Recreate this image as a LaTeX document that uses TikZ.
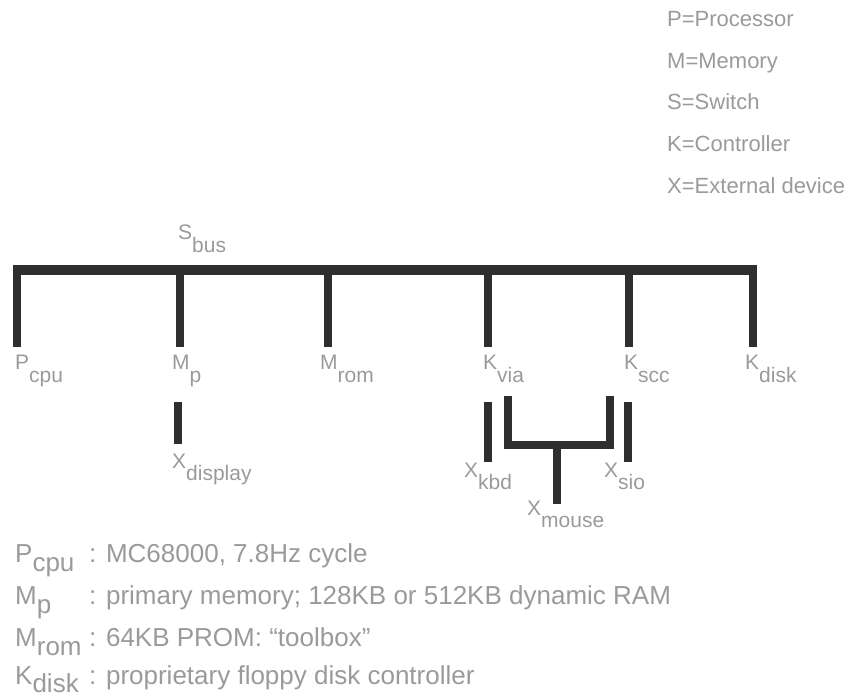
\documentclass[tikz,border=0pt]{standalone}
\usepackage{fontspec}
\setmainfont{Liberation Sans}
\usetikzlibrary{positioning}
\definecolor{inkgray}{HTML}{9A9A9A}
\definecolor{bargray}{HTML}{2E2E2E}
\newcommand{\subname}[3][0.6em]{#2\raisebox{-#1}{#3}}

\begin{document}
\begin{tikzpicture}[x=1pt,y=-1pt,
  bus/.style={draw=bargray, line width=10pt},
  drop/.style={draw=bargray, line width=8pt},
  unit/.style={font=\fontsize{21}{24}\selectfont, text=inkgray,
               inner sep=0pt, anchor=base west},
  legend/.style={font=\fontsize{22}{26}\selectfont, text=inkgray,
                 inner sep=0pt, anchor=base west},
  note/.style={font=\fontsize{26}{30}\selectfont, text=inkgray,
               inner sep=0pt, anchor=base west}
]
  \useasboundingbox (0,0) rectangle (846,700);

  % legend
  \node[legend] (legP) at (667,27)  {P=Processor};
  \node[legend] (legM) at (667,69)  {M=Memory};
  \node[legend] (legS) at (667,110) {S=Switch};
  \node[legend] (legK) at (667,152) {K=Controller};
  \node[legend] (legX) at (667,194) {X=External device};

  % bus
  \node[unit] (Sbus) at (178,240) {\subname{S}{bus}};
  \coordinate (busL) at (13,270);
  \coordinate (busR) at (757,270);
  \draw[bus] (busL) -- (busR);

  \coordinate (tP)    at (17,270);
  \coordinate (tMp)   at (180,270);
  \coordinate (tMrom) at (328,270);
  \coordinate (tKvia) at (488,270);
  \coordinate (tKscc) at (629,270);
  \coordinate (tKdsk) at (753,270);
  \foreach \t in {tP,tMp,tMrom,tKvia,tKscc,tKdsk}
    \draw[drop] (\t) -- ++(0,77);

  \node[unit] (Pcpu)  at (15,370)  {\subname{P}{cpu}};
  \node[unit] (Mp)    at (172,370) {\subname{M}{p}};
  \node[unit] (Mrom)  at (320,370) {\subname{M}{rom}};
  \node[unit] (Kvia)  at (483,370) {\subname{K}{via}};
  \node[unit] (Kscc)  at (624,370) {\subname{K}{scc}};
  \node[unit] (Kdisk) at (745,370) {\subname{K}{disk}};

  % external devices
  \coordinate (dDisp) at (178,402);
  \coordinate (dKbd)  at (488,402);
  \coordinate (dSio)  at (628,402);
  \draw[drop] (dDisp) -- ++(0,42);
  \draw[drop] (dKbd)  -- ++(0,60);
  \draw[drop] (dSio)  -- ++(0,60);

  \coordinate (uL) at (507.5,396);
  \coordinate (uR) at (609.5,396);
  \coordinate (uS) at (556.5,445);
  \draw[drop, line join=miter] (uL) |- (uS) -| (uR);
  \draw[drop] (uS) -- ++(0,59);

  \node[unit] (Xdisp)  at (172,468) {\subname{X}{display}};
  \node[unit] (Xkbd)   at (464,477) {\subname{X}{kbd}};
  \node[unit] (Xsio)   at (604,477) {\subname{X}{sio}};
  \node[unit] (Xmouse) at (527,515) {\subname{X}{mouse}};

  % notes
  \node[note] (nP)    at (15,562) {\makebox[74pt][l]{\subname[0.36em]{P}{cpu}}: MC68000, 7.8Hz cycle};
  \node[note] (nMp)   at (15,604) {\makebox[74pt][l]{\subname[0.36em]{M}{p}}: primary memory; 128KB or 512KB dynamic RAM};
  \node[note] (nMrom) at (15,646) {\makebox[74pt][l]{\subname[0.36em]{M}{rom}}: 64KB PROM: ``toolbox''};
  \node[note] (nKdsk) at (15,684) {\makebox[74pt][l]{\subname[0.32em]{K}{disk}}: proprietary floppy disk controller};
\end{tikzpicture}
\end{document}
